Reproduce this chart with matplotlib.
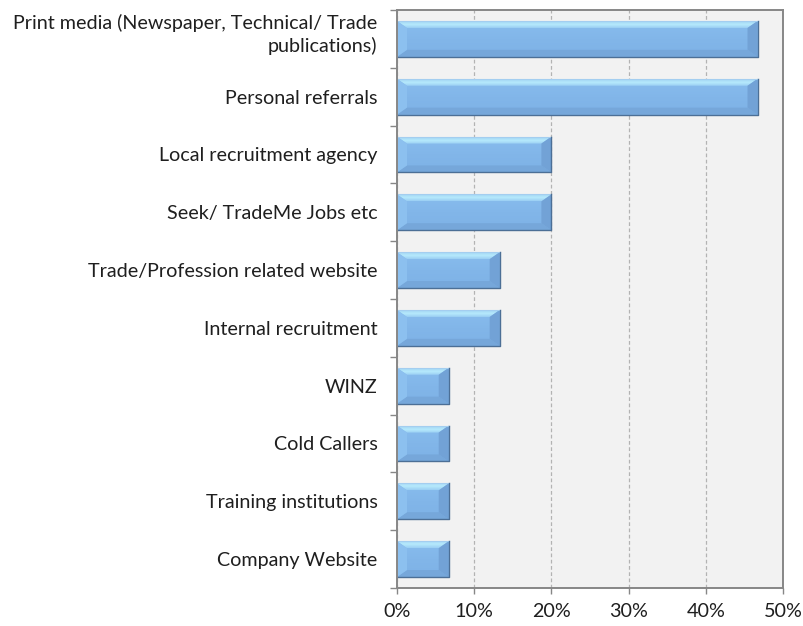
import numpy as np
import matplotlib
matplotlib.use("Agg")
import matplotlib.pyplot as plt
import matplotlib.transforms as mtransforms
from matplotlib.patches import Polygon
from matplotlib.ticker import FixedLocator, PercentFormatter

plt.rcParams['font.family'] = ['Lato', 'DejaVu Sans']

# data, top to bottom as in the chart
categories = [
    "Print media (Newspaper, Technical/ Trade\npublications)",
    "Personal referrals",
    "Local recruitment agency",
    "Seek/ TradeMe Jobs etc",
    "Trade/Profession related website",
    "Internal recruitment",
    "WINZ",
    "Cold Callers",
    "Training institutions",
    "Company Website",
]
shares = [46.7, 46.7, 20.0, 20.0, 13.3, 13.3, 6.7, 6.7, 6.7, 6.7]
x_ticks = [0, 10, 20, 30, 40, 50]

W, H = 804, 626
fig = plt.figure(figsize=(W / 100, H / 100), dpi=100)
ax = fig.add_axes([397 / W, 38 / H, 386 / W, 578 / H])
ax.set_facecolor('#f2f2f2')

ypos = np.arange(len(categories))
bar_h = 0.62
bars = ax.barh(ypos, shares, height=bar_h, color='#80b4e8',
               edgecolor='none', zorder=3)

ax.set_xlim(0, 50)
ax.set_ylim(len(categories) - 0.5, -0.5)

# pixel -> data sizes for the bevel
px_x = 50 / 386
px_y = len(categories) / 578
bx = 10 * px_x
by = 7 * px_y

grad = np.linspace(0, 1, 64).reshape(-1, 1)
cmap = matplotlib.colors.LinearSegmentedColormap.from_list(
    'face', ['#88bdee', '#82b6e9', '#7eb2e6'])
top_cmap = matplotlib.colors.LinearSegmentedColormap.from_list(
    'top', ['#a2d4f5', '#b6eafc', '#9acef3'])

for b in bars:
    x0 = b.get_x()
    x1 = x0 + b.get_width()
    yt = b.get_y()              # visual top (axis inverted)
    yb = yt + b.get_height()    # visual bottom
    im = ax.imshow(grad, aspect='auto', cmap=cmap, extent=(x0, x1, yb, yt),
                   zorder=3.1, interpolation='bilinear')
    im.set_clip_path(b)
    top = Polygon([(x0, yt), (x1, yt), (x1 - bx, yt + by), (x0 + bx, yt + by)],
                  closed=True, fc='none', ec='none', zorder=3.2)
    ax.add_patch(top)
    tim = ax.imshow(grad, aspect='auto', cmap=top_cmap,
                    extent=(x0, x1, yt + by, yt), zorder=3.2,
                    interpolation='bilinear')
    tim.set_clip_path(top)
    bot = Polygon([(x0, yb), (x1, yb), (x1 - bx, yb - by), (x0 + bx, yb - by)],
                  closed=True, fc='#76a7da', ec='none', zorder=3.2)
    left = Polygon([(x0, yt), (x0 + bx, yt + by), (x0 + bx, yb - by), (x0, yb)],
                   closed=True, fc='#8cc0ef', ec='none', zorder=3.3)
    right = Polygon([(x1, yt), (x1 - bx, yt + by), (x1 - bx, yb - by), (x1, yb)],
                    closed=True, fc='#72a2d6', ec='none', zorder=3.3)
    for p in (bot, left, right):
        ax.add_patch(p)
    # light edge top/left, dark edge bottom/right
    ax.plot([x0, x0, x1], [yb, yt, yt], color='#a4cef0', lw=0.8, zorder=3.4)
    ax.plot([x0, x1, x1], [yb, yb, yt], color='#4c6f96', lw=1.0, zorder=3.4)

# axes styling
for s in ax.spines.values():
    s.set_color('#878787')
    s.set_linewidth(1.4)
    s.set_zorder(4)

ax.set_yticks(ypos)
ax.set_yticklabels(categories, fontsize=14.2, color='#1f1f1f', linespacing=1.32)
ax.tick_params(axis='y', which='major', length=0, pad=14)
ax.yaxis.set_minor_locator(FixedLocator(np.arange(-0.5, len(categories), 1.0)))
ax.tick_params(axis='y', which='minor', length=5, width=1, color='#878787')

# the wrapped label sits a little higher than the bar centre
first = ax.get_yticklabels()[0]
first.set_transform(first.get_transform() +
                    mtransforms.ScaledTranslation(0, 8 / 100, fig.dpi_scale_trans))

ax.set_xticks(x_ticks)
ax.xaxis.set_major_formatter(PercentFormatter(decimals=0))
ax.tick_params(axis='x', length=4, width=1, color='#878787', pad=7,
               labelsize=14.2, labelcolor='#1f1f1f')

ax.grid(axis='x', linestyle=(0, (3, 2)), color='#b3b3b3', linewidth=0.9, zorder=0)
ax.set_axisbelow(True)

fig.savefig('out.png', dpi=100)
